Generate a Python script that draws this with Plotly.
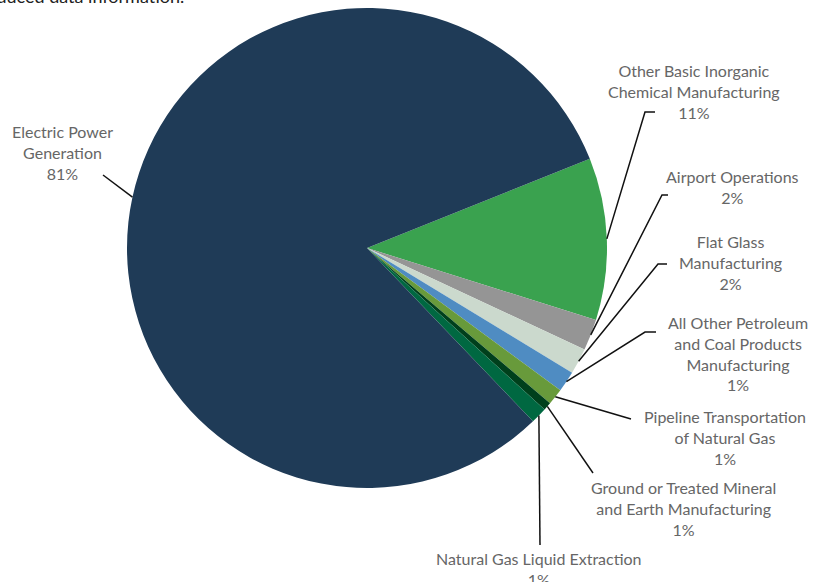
import math
import plotly.graph_objects as go

# ---- data ----
categories = [
    "Other Basic Inorganic<br>Chemical Manufacturing",
    "Airport Operations",
    "Flat Glass<br>Manufacturing",
    "All Other Petroleum<br>and Coal Products<br>Manufacturing",
    "Pipeline Transportation<br>of Natural Gas",
    "Ground or Treated Mineral<br>and Earth Manufacturing",
    "Natural Gas Liquid Extraction",
    "Electric Power<br>Generation",
]
values = [10.9, 2.1, 1.75, 1.4, 1.1, 0.55, 1.1, 81.1]
pct_labels = ["11%", "2%", "2%", "1%", "1%", "1%", "1%", "81%"]
colors = ["#3aa24f", "#959595", "#cbd9cd", "#4f8cc2", "#689a3b",
          "#00401c", "#006841", "#1f3b57"]

# ---- layout geometry (pixels) ----
W, H = 826, 582
cx, cy, R = 367, 248, 240
rotation = 68.2  # degrees clockwise from 12 o'clock where first slice starts

# label block centres and leader elbow points (pixels)
label_pos = [(694, 91), (732, 187), (730, 263), (738, 354),
             (725, 437), (683, 508), (539, 569), (62, 153)]
elbows = [
    [(645, 112), (655, 112)],
    [(662, 195), (668, 195)],
    [(658, 264), (667, 264)],
    [(645, 332), (656, 332)],
    [(631, 419)],
    [(593, 473)],
    [(540, 545)],
    [(103, 175)],
]

def px(x):
    return x / W

def py(y):
    return 1 - y / H

fig = go.Figure(go.Pie(
    labels=[c.replace("<br>", " ") for c in categories],
    values=values,
    sort=False,
    direction="clockwise",
    rotation=rotation,
    marker=dict(colors=colors, line=dict(width=0)),
    textinfo="none",
    hoverinfo="label+percent",
    domain=dict(x=[px(cx - R), px(cx + R)], y=[py(cy + R), py(cy - R)]),
    showlegend=False,
))

total = sum(values)
shapes = []
annotations = []
start = rotation
for i, v in enumerate(values):
    span = v / total * 360
    mid = start + span / 2  # clockwise from top
    start += span
    a = math.radians(mid)
    ex = cx + R * math.sin(a)
    ey = cy - R * math.cos(a)
    pts = [(ex, ey)] + elbows[i]
    path = "M " + " L ".join(f"{px(x):.5f},{py(y):.5f}" for x, y in pts)
    shapes.append(dict(type="path", path=path, xref="paper", yref="paper",
                       line=dict(color="#111111", width=1.5)))
    lx, ly = label_pos[i]
    annotations.append(dict(
        x=px(lx), y=py(ly), xref="paper", yref="paper",
        text=categories[i] + "<br>" + pct_labels[i],
        showarrow=False, xanchor="center", yanchor="middle", align="center",
        font=dict(family="Lato", size=16, color="#666666"),
    ))

annotations.append(dict(
    x=px(186), y=py(-4), xref="paper", yref="paper",
    text="Chart excludes facilities with suppressed or reduced data information.",
    showarrow=False, xanchor="right", yanchor="middle",
    font=dict(family="Lato", size=18, color="#222222"),
))

fig.update_layout(
    width=W, height=H,
    margin=dict(l=0, r=0, t=0, b=0),
    paper_bgcolor="white", plot_bgcolor="white",
    shapes=shapes, annotations=annotations,
)

fig.write_html("out.html")
